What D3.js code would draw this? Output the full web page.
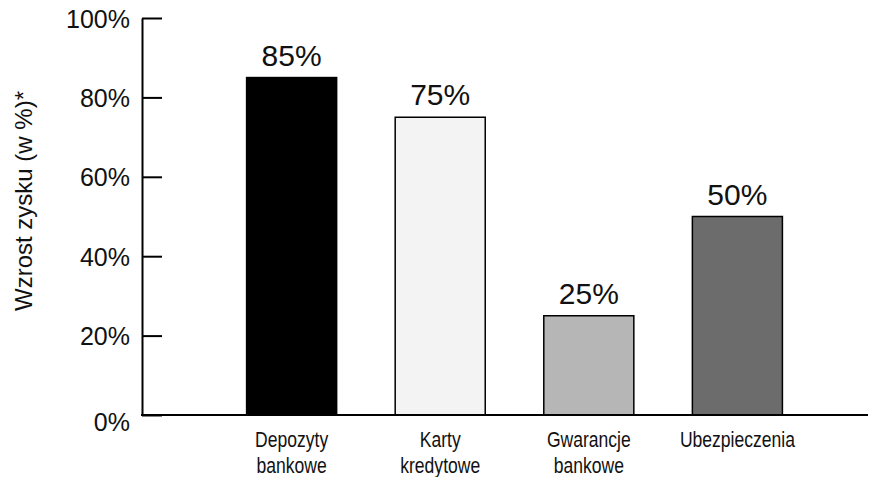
<!DOCTYPE html>
<html>
<head>
<meta charset="utf-8">
<script src="https://cdn.jsdelivr.net/npm/d3@7"></script>
<style>
  html, body { margin: 0; padding: 0; background: #fff; }
  svg { display: block; }
  text { font-family: "Liberation Sans", Arial, Helvetica, sans-serif; fill: #111; }
</style>
</head>
<body>
<svg id="chart" width="882" height="477"></svg>
<script>
// Growth of profit by banking product
const categories = ["Depozyty bankowe", "Karty kredytowe", "Gwarancje bankowe", "Ubezpieczenia"];
const labelLines = [["Depozyty", "bankowe"], ["Karty", "kredytowe"], ["Gwarancje", "bankowe"], ["Ubezpieczenia"]];
const values = [85, 75, 25, 50];
const barFills = ["#000000", "#f3f3f3", "#b6b6b6", "#6c6c6c"];
const yTicks = [0, 20, 40, 60, 80, 100];
const yTitle = "Wzrost zysku (w %)*";

const svg = d3.select("#chart");

const axisX0 = 142, axisX1 = 868;
const y = d3.scaleLinear().domain([0, 100]).range([415, 18]);
const x = d3.scaleBand()
  .domain(categories)
  .range([axisX0, axisX1])
  .paddingInner(0.394)
  .paddingOuter(0.64)
  .align(0.55);

// Bars
svg.append("g")
  .selectAll("rect")
  .data(values)
  .join("rect")
  .attr("x", (d, i) => x(categories[i]))
  .attr("y", d => y(d))
  .attr("width", x.bandwidth())
  .attr("height", d => y(0) - y(d))
  .attr("fill", (d, i) => barFills[i])
  .attr("stroke", "#000")
  .attr("stroke-width", 1.5);

// Value labels above bars
svg.append("g")
  .selectAll("text")
  .data(values)
  .join("text")
  .attr("x", (d, i) => x(categories[i]) + x.bandwidth() / 2)
  .attr("y", d => y(d) - 12)
  .attr("text-anchor", "middle")
  .style("font-size", "30px")
  .text(d => d + "%");

// Y axis with inward ticks
const yAxis = d3.axisLeft(y)
  .tickValues(yTicks)
  .tickFormat(d => d + "%")
  .tickSizeInner(-20)
  .tickSizeOuter(0)
  .tickPadding(12);

const gy = svg.append("g")
  .attr("transform", `translate(${axisX0},0)`)
  .call(yAxis);
gy.select(".domain").attr("stroke", "#000").attr("stroke-width", 2);
gy.selectAll(".tick line").attr("stroke", "#000").attr("stroke-width", 2);
gy.selectAll(".tick text")
  .style("font-size", "25px")
  .style("font-family", "'Liberation Sans', Arial, sans-serif")
  .attr("fill", "#111")
  .attr("dy", d => d === 0 ? "0.62em" : "0.36em");

// Baseline
svg.append("line")
  .attr("x1", axisX0 - 1)
  .attr("x2", axisX1)
  .attr("y1", y(0))
  .attr("y2", y(0))
  .attr("stroke", "#000")
  .attr("stroke-width", 2);

// Category labels (condensed face)
const catG = svg.append("g");
labelLines.forEach((lines, i) => {
  const cx = x(categories[i]) + x.bandwidth() / 2;
  lines.forEach((line, j) => {
    catG.append("text")
      .attr("transform", `translate(${cx},${447 + j * 26}) scale(0.78,1)`)
      .attr("text-anchor", "middle")
      .style("font-size", "22.5px")
      .text(line);
  });
});

// Y axis title
svg.append("text")
  .attr("transform", "translate(32,201) rotate(-90)")
  .attr("text-anchor", "middle")
  .style("font-size", "24px")
  .text(yTitle);
</script>
</body>
</html>
